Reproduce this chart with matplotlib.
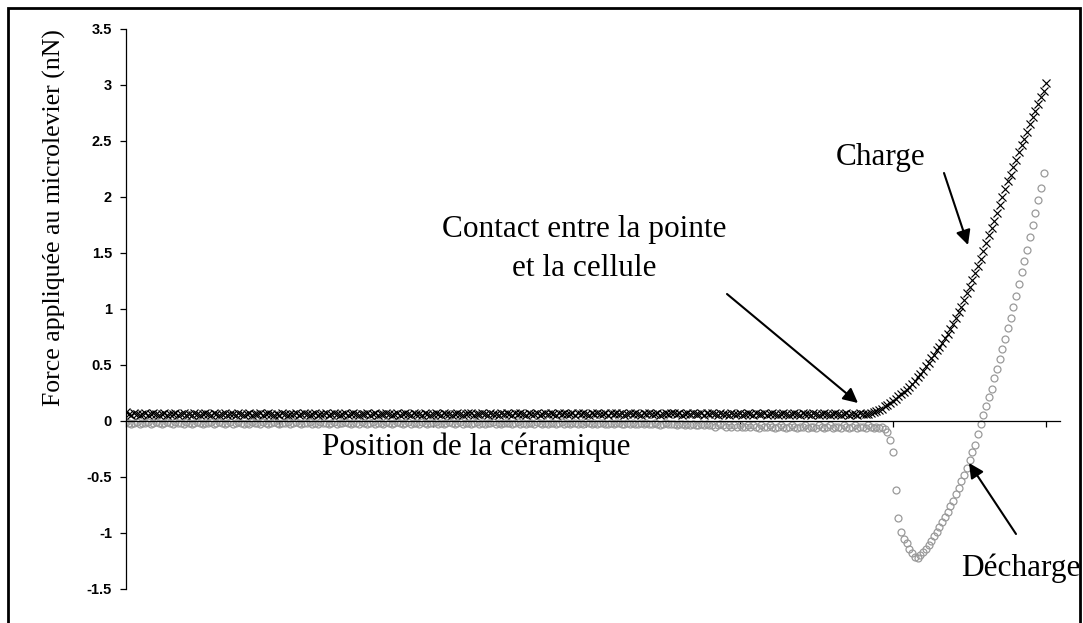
import matplotlib
matplotlib.use("Agg")
import matplotlib.pyplot as plt
from matplotlib.patches import Rectangle

# charge curve (black crosses): flat part then the rise after contact
charge_flat = [
    0.08, 0.06, 0.05, 0.07, 0.06, 0.05, 0.06, 0.07, 0.05, 0.06, 0.07, 0.06, 0.05, 0.06, 0.07, 0.05, 0.06, 0.06, 0.07, 0.05,
    0.06, 0.07, 0.05, 0.06, 0.05, 0.07, 0.06, 0.05, 0.06, 0.07, 0.06, 0.05, 0.07, 0.06, 0.05, 0.06, 0.07, 0.05, 0.06, 0.06,
    0.05, 0.07, 0.06, 0.05, 0.06, 0.07, 0.05, 0.06, 0.06, 0.07, 0.05, 0.06, 0.07, 0.06, 0.05, 0.06, 0.05, 0.07, 0.06, 0.05,
    0.06, 0.06, 0.07, 0.05, 0.06, 0.07, 0.06, 0.05, 0.06, 0.07, 0.05, 0.06, 0.06, 0.07, 0.05, 0.06, 0.07, 0.06, 0.05, 0.06,
    0.07, 0.05, 0.06, 0.07, 0.06, 0.05, 0.06, 0.06, 0.07, 0.05, 0.06, 0.07, 0.05, 0.06, 0.06, 0.07, 0.06, 0.05, 0.06, 0.07,
    0.05, 0.06, 0.07, 0.06, 0.05, 0.07, 0.06, 0.06, 0.05, 0.07, 0.06, 0.05, 0.06, 0.07, 0.06, 0.05, 0.07, 0.06, 0.06, 0.05,
    0.06, 0.07, 0.06, 0.05, 0.06, 0.07, 0.07, 0.05, 0.06, 0.06, 0.07, 0.06, 0.05, 0.07, 0.06, 0.06, 0.05, 0.07, 0.06, 0.07,
    0.06, 0.05, 0.07, 0.06, 0.07, 0.06, 0.05, 0.07, 0.06, 0.06, 0.07, 0.05, 0.06, 0.07, 0.06, 0.07, 0.06, 0.05, 0.07, 0.06,
    0.07, 0.06, 0.06, 0.07, 0.05, 0.07, 0.06, 0.07, 0.06, 0.05, 0.07, 0.06, 0.07, 0.06, 0.06, 0.07, 0.05, 0.07, 0.06, 0.07,
    0.06, 0.07, 0.05, 0.06, 0.07, 0.06, 0.07, 0.06, 0.05, 0.07, 0.06, 0.07, 0.06, 0.06, 0.07, 0.05, 0.06, 0.07, 0.06, 0.07,
    0.07, 0.06, 0.07, 0.05, 0.06, 0.07, 0.06, 0.07, 0.06, 0.06, 0.07, 0.05, 0.07, 0.06, 0.07, 0.06, 0.05, 0.07, 0.06, 0.06,
    0.05, 0.07, 0.06, 0.06, 0.07, 0.05, 0.06, 0.07, 0.06, 0.05, 0.07, 0.06, 0.06, 0.07, 0.05, 0.06, 0.07, 0.06, 0.05, 0.06,
    0.07, 0.06, 0.05, 0.06, 0.07, 0.06, 0.05, 0.07, 0.06, 0.06, 0.05, 0.07, 0.06, 0.05, 0.06, 0.07, 0.06, 0.05, 0.06, 0.07,
    0.06, 0.05, 0.06, 0.07, 0.05, 0.06, 0.06, 0.05, 0.07, 0.06, 0.06,
]
charge_rise = [
    0.06, 0.07, 0.08, 0.09, 0.10, 0.11, 0.13, 0.14, 0.16, 0.18, 0.20, 0.22, 0.24, 0.26, 0.28, 0.30,
    0.33, 0.36, 0.39, 0.42, 0.45, 0.49, 0.52, 0.56, 0.59, 0.63, 0.66, 0.70, 0.74, 0.78, 0.82, 0.87,
    0.92, 0.97, 1.02, 1.08, 1.14, 1.20, 1.26, 1.32, 1.38, 1.45, 1.52, 1.59, 1.66, 1.72, 1.79, 1.86,
    1.93, 2.00, 2.07, 2.14, 2.20, 2.27, 2.33, 2.40, 2.46, 2.52, 2.58, 2.65, 2.71, 2.77, 2.83, 2.89,
    2.95, 3.02,
]

# discharge curve (grey circles): flat part, adhesion dip, then rise
decharge_flat = [
    -0.01, -0.02, -0.03, -0.02, -0.01, -0.03, -0.02, -0.02, -0.01, -0.03, -0.02, -0.01, -0.02, -0.03, -0.02, -0.01, -0.02, -0.03, -0.01, -0.02,
    -0.02, -0.03, -0.01, -0.02, -0.03, -0.02, -0.01, -0.02, -0.03, -0.02, -0.02, -0.01, -0.03, -0.02, -0.01, -0.02, -0.03, -0.02, -0.01, -0.03,
    -0.02, -0.01, -0.02, -0.03, -0.02, -0.03, -0.01, -0.02, -0.02, -0.03, -0.01, -0.02, -0.03, -0.02, -0.01, -0.02, -0.03, -0.02, -0.02, -0.01,
    -0.03, -0.02, -0.01, -0.02, -0.03, -0.02, -0.02, -0.01, -0.03, -0.02, -0.03, -0.01, -0.02, -0.02, -0.03, -0.02, -0.01, -0.03, -0.02, -0.02,
    -0.01, -0.02, -0.03, -0.02, -0.02, -0.03, -0.01, -0.02, -0.03, -0.02, -0.01, -0.03, -0.02, -0.02, -0.03, -0.01, -0.02, -0.03, -0.02, -0.01,
    -0.02, -0.03, -0.02, -0.01, -0.03, -0.02, -0.02, -0.03, -0.01, -0.02, -0.03, -0.02, -0.02, -0.01, -0.03, -0.02, -0.03, -0.02, -0.01, -0.02,
    -0.03, -0.02, -0.01, -0.03, -0.02, -0.02, -0.03, -0.02, -0.01, -0.03, -0.02, -0.03, -0.02, -0.02, -0.01, -0.03, -0.02, -0.03, -0.02, -0.02,
    -0.02, -0.03, -0.02, -0.01, -0.03, -0.02, -0.03, -0.02, -0.02, -0.03, -0.01, -0.02, -0.03, -0.02, -0.03, -0.02, -0.02, -0.03, -0.02, -0.01,
    -0.03, -0.02, -0.03, -0.02, -0.02, -0.03, -0.02, -0.03, -0.01, -0.02, -0.03, -0.02, -0.03, -0.02, -0.02, -0.03, -0.03, -0.02, -0.03, -0.02,
    -0.02, -0.03, -0.03, -0.02, -0.03, -0.02, -0.03, -0.03, -0.02, -0.03, -0.02, -0.03, -0.03, -0.02, -0.03, -0.04, -0.03, -0.02, -0.03, -0.03,
    -0.03, -0.04, -0.03, -0.03, -0.04, -0.03, -0.04, -0.03, -0.04, -0.04, -0.03, -0.04, -0.03, -0.04, -0.04, -0.05, -0.04, -0.03, -0.04, -0.05,
    -0.04, -0.05, -0.04, -0.05, -0.04, -0.05, -0.05, -0.04, -0.05, -0.04, -0.05, -0.06, -0.04, -0.05, -0.05, -0.04, -0.05, -0.06, -0.05, -0.04,
    -0.05, -0.06, -0.05, -0.04, -0.05, -0.06, -0.05, -0.05, -0.04, -0.06, -0.05, -0.05, -0.06, -0.04, -0.05, -0.06, -0.05, -0.04, -0.06, -0.05,
    -0.05, -0.06, -0.04, -0.05, -0.06, -0.05, -0.04, -0.06, -0.05, -0.05, -0.06, -0.04, -0.05, -0.06, -0.05, -0.06, -0.05, -0.07, -0.10,
]
decharge_dip = [
    -0.17, -0.28, -0.62, -0.87, -0.99, -1.05, -1.09, -1.14, -1.18, -1.21, -1.22,
    -1.20, -1.17, -1.14, -1.11, -1.07, -1.03, -0.99, -0.95, -0.90, -0.86, -0.81,
    -0.76, -0.71, -0.65, -0.60, -0.54, -0.48, -0.42, -0.35, -0.28, -0.21, -0.12,
]
decharge_rise = [
    -0.03, 0.05, 0.13, 0.21, 0.29, 0.38, 0.46, 0.55, 0.64, 0.73, 0.83, 0.92,
    1.02, 1.12, 1.22, 1.33, 1.43, 1.53, 1.64, 1.75, 1.86, 1.97, 2.08, 2.21,
]

charge = charge_flat + charge_rise
decharge = decharge_flat + decharge_dip + decharge_rise

x_ticks = [0, 56, 112, 168, 224, 280, 336]
y_ticks = [-1.5, -1, -0.5, 0, 0.5, 1, 1.5, 2, 2.5, 3, 3.5]
y_labels = ["-1.5", "-1", "-0.5", "0", "0.5", "1", "1.5", "2", "2.5", "3", "3.5"]

W, H = 1083, 623


def fpx(x, y):
    # pixel position (from top-left) -> figure fraction
    return (x / W, 1 - y / H)


fig = plt.figure(figsize=(W / 100, H / 100), dpi=100)
ax = fig.add_axes([126 / W, 34 / H, 934 / W, 560 / H])

ax.plot(range(len(decharge)), decharge, linestyle="none", marker="o", ms=5,
        mfc="none", mec="#9a9a9a", mew=0.9)
ax.plot(range(len(charge)), charge, linestyle="none", marker="x", ms=5.8,
        color="black", mew=0.85)

ax.set_xlim(0, 341)
ax.set_ylim(-1.5, 3.5)
ax.spines["top"].set_visible(False)
ax.spines["right"].set_visible(False)
ax.spines["bottom"].set_position(("data", 0))
ax.spines["left"].set_linewidth(0.9)
ax.spines["bottom"].set_linewidth(0.9)

ax.set_xticks(x_ticks)
ax.set_xticklabels([])
ax.tick_params(axis="x", direction="out", length=4, width=0.9)
ax.set_yticks(y_ticks)
ax.set_yticklabels(y_labels, fontfamily="Liberation Sans", fontweight="bold", fontsize=10.5)
ax.tick_params(axis="y", direction="out", length=4, width=0.9, pad=6)

serif = "Liberation Serif"
fig.text(*fpx(54, 218), "Force appliquée au microlevier (nN)", rotation=90,
         ha="center", va="center", fontfamily=serif, fontsize=18.5)
fig.text(*fpx(584, 249), "Contact entre la pointe\net la cellule", ha="center",
         va="center", fontfamily=serif, fontsize=22.5, linespacing=1.5)
fig.text(*fpx(881, 157), "Charge", ha="center", va="center", fontfamily=serif, fontsize=22.5)
fig.text(*fpx(476, 447), "Position de la céramique", ha="center", va="center",
         fontfamily=serif, fontsize=22.5)
fig.text(*fpx(1021, 568), "Décharge", ha="center", va="center", fontfamily=serif, fontsize=22.5)

arrow = dict(arrowstyle="-|>", color="black", lw=1.5, mutation_scale=22, shrinkA=0, shrinkB=0)
for tail, tip in [((727, 294), (858, 403)), ((944, 173), (968, 245)), ((1016, 534), (969, 463))]:
    ax.annotate("", xy=fpx(*tip), xytext=fpx(*tail), xycoords="figure fraction",
                textcoords="figure fraction", arrowprops=arrow)

# outer frame round the whole picture
fig.patches.append(Rectangle(fpx(8, 640), (1080 - 8) / W, (640 - 8) / H,
                             transform=fig.transFigure, fill=False, lw=2, ec="black"))

fig.savefig("out.png", dpi=100)
